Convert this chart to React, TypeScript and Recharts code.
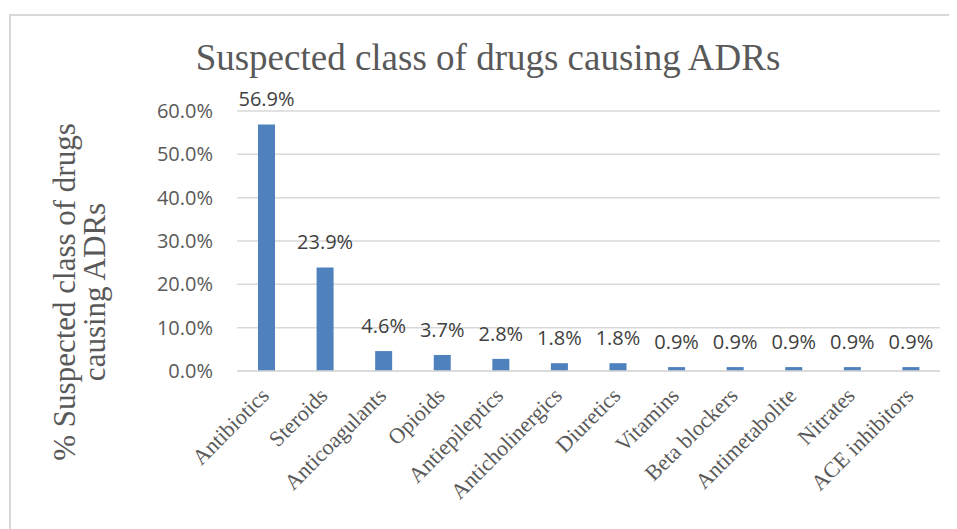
import React from "react";
import {
  BarChart,
  Bar,
  XAxis,
  YAxis,
  CartesianGrid,
  LabelList,
} from "recharts";

const drugClasses = [
  "Antibiotics",
  "Steroids",
  "Anticoagulants",
  "Opioids",
  "Antiepileptics",
  "Anticholinergics",
  "Diuretics",
  "Vitamins",
  "Beta blockers",
  "Antimetabolite",
  "Nitrates",
  "ACE inhibitors",
];

const adrShare = [56.9, 23.9, 4.6, 3.7, 2.8, 1.8, 1.8, 0.9, 0.9, 0.9, 0.9, 0.9];

const yTicks = [0, 10, 20, 30, 40, 50, 60];

const chartTitle = "Suspected class of drugs causing ADRs";
const yLabelLines = ["% Suspected class of drugs", "causing ADRs"];

const data = drugClasses.map((name, i) => ({ name, value: adrShare[i] }));

const serif = "'Liberation Serif', 'Times New Roman', serif";
const sans = "'Open Sans', 'Liberation Sans', sans-serif";

const pct = (v: number) => `${Number(v).toFixed(1)}%`;

const SlantedTick = (props: any) => {
  const { x, y, payload } = props;
  const tx = x + 4;
  const ty = y + 26;
  return (
    <text
      x={tx}
      y={ty}
      textAnchor="end"
      fill="#595959"
      fontFamily={serif}
      fontSize={22}
      transform={`rotate(-45, ${tx}, ${ty})`}
    >
      {payload.value}
    </text>
  );
};

// two-line rotated axis title on the left
const YTitle = () => {
  const cy = 284;
  const lines = [67, 97];
  return (
    <g fill="#595959" fontFamily={serif} fontSize={31}>
      {yLabelLines.map((line, i) => (
        <text
          key={line}
          x={lines[i]}
          y={cy}
          textAnchor="middle"
          transform={`rotate(-90, ${lines[i]}, ${cy})`}
        >
          {line}
        </text>
      ))}
    </g>
  );
};

export default function App() {
  return (
    <div
      style={{
        position: "relative",
        width: 949,
        height: 521,
        overflow: "hidden",
        background: "#fff",
      }}
    >
      {/* chart frame, only top and left edges fall inside the page */}
      <div
        style={{
          position: "absolute",
          left: 1,
          top: 6,
          width: 1000,
          height: 600,
          border: "2px solid #d9d9d9",
        }}
      />
      <svg
        width={949}
        height={521}
        style={{ position: "absolute", left: 0, top: 0, pointerEvents: "none" }}
      >
        <text
          x={480}
          y={62}
          textAnchor="middle"
          fill="#595959"
          fontFamily={serif}
          fontSize={37}
        >
          {chartTitle}
        </text>
      </svg>
      <div style={{ position: "absolute", left: 0, top: 0 }}>
        <BarChart
          width={949}
          height={521}
          data={data}
          margin={{ top: 103, right: 17, left: 0, bottom: 8 }}
        >
          <CartesianGrid
            vertical={false}
            stroke="#d9d9d9"
            strokeWidth={1.5}
          />
          <XAxis
            dataKey="name"
            interval={0}
            height={150}
            tickLine={false}
            tickSize={0}
            tickMargin={0}
            axisLine={{ stroke: "#d9d9d9", strokeWidth: 1.5 }}
            tick={<SlantedTick />}
          />
          <YAxis
            width={229}
            domain={[0, 60]}
            ticks={yTicks}
            tickFormatter={pct}
            axisLine={false}
            tickLine={false}
            tickSize={0}
            tickMargin={24}
            tick={{ fill: "#595959", fontFamily: sans, fontSize: 20 }}
            label={{ content: () => <YTitle /> }}
          />
          <Bar
            dataKey="value"
            fill="#4f81bd"
            barSize={17}
            isAnimationActive={false}
          >
            <LabelList
              dataKey="value"
              position="top"
              offset={18}
              formatter={(v: any) => pct(v)}
              fill="#404040"
              fontFamily={sans}
              fontSize={20}
            />
          </Bar>
        </BarChart>
      </div>
    </div>
  );
}
